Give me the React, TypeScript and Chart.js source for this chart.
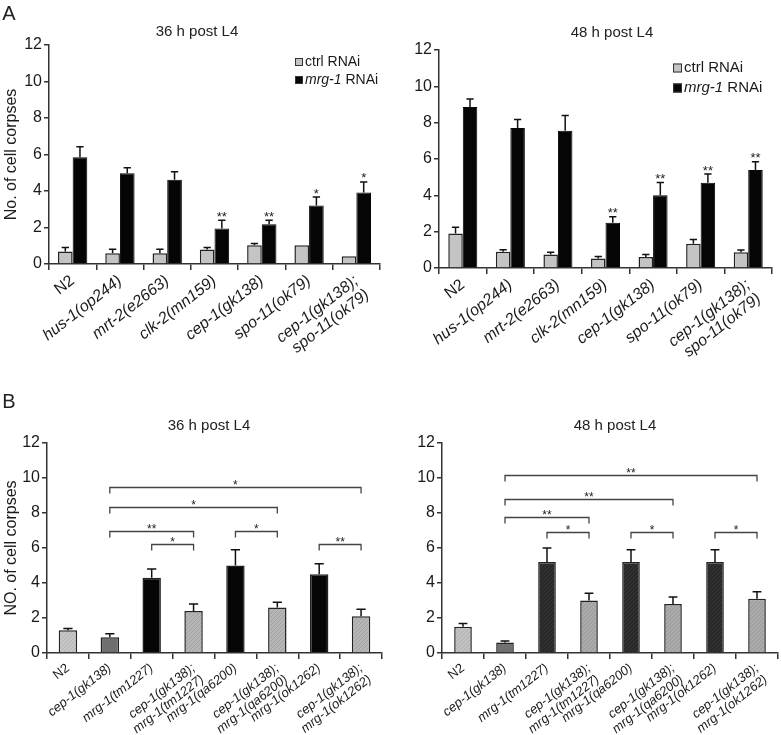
import React, { useEffect, useRef } from 'react';
import { Chart, registerables } from 'chart.js';

Chart.register(...registerables);

const FONT = "'Liberation Sans', Arial, Helvetica, sans-serif";

// ---------- Panel A data ----------
const genotypesA: (string | string[])[] = [
  'N2', 'hus-1(op244)', 'mrt-2(e2663)', 'clk-2(mn159)', 'cep-1(gk138)', 'spo-11(ok79)',
  ['cep-1(gk138);', 'spo-11(ok79)'],
];
const ctrl36 = [0.68, 0.59, 0.59, 0.8, 1.03, 1.03, 0.42];
const ctrl36Err = [0.22, 0.22, 0.22, 0.1, 0.1, 0, 0];
const mrg36 = [5.85, 4.97, 4.62, 1.95, 2.18, 3.2, 3.92];
const mrg36Err = [0.58, 0.3, 0.43, 0.45, 0.22, 0.47, 0.58];
const sig36 = ['', '', '', '**', '**', '*', '*'];

const ctrl48 = [1.9, 0.89, 0.74, 0.52, 0.61, 1.33, 0.87];
const ctrl48Err = [0.35, 0.11, 0.13, 0.11, 0.13, 0.24, 0.12];
const mrg48 = [8.86, 7.7, 7.56, 2.49, 4.0, 4.69, 5.39];
const mrg48Err = [0.44, 0.47, 0.84, 0.33, 0.7, 0.48, 0.46];
const sig48 = ['', '', '', '**', '**', '**', '**'];

// ---------- Panel B data ----------
const genotypesB: (string | string[])[] = [
  'N2', 'cep-1(gk138)', 'mrg-1(tm1227)', ['cep-1(gk138);', 'mrg-1(tm1227)'],
  'mrg-1(qa6200)', ['cep-1(gk138);', 'mrg-1(qa6200)'],
  'mrg-1(ok1262)', ['cep-1(gk138);', 'mrg-1(ok1262)'],
];
const b36 = [1.3, 0.9, 4.3, 2.4, 5.0, 2.6, 4.5, 2.1];
const b36Err = [0.1, 0.2, 0.5, 0.4, 0.9, 0.3, 0.6, 0.4];
const b48 = [1.5, 0.6, 5.2, 3.0, 5.2, 2.8, 5.2, 3.1];
const b48Err = [0.18, 0.09, 0.8, 0.42, 0.7, 0.4, 0.7, 0.4];

type Bracket = { from: number; to: number; y: number; label: string };
const brackets36: Bracket[] = [
  { from: 1, to: 7, y: 9.5, label: '*' },
  { from: 1, to: 5, y: 8.35, label: '*' },
  { from: 1, to: 3, y: 6.97, label: '**' },
  { from: 2, to: 3, y: 6.23, label: '*' },
  { from: 4, to: 5, y: 6.97, label: '*' },
  { from: 6, to: 7, y: 6.23, label: '**' },
];
const brackets48: Bracket[] = [
  { from: 1, to: 7, y: 10.2, label: '**' },
  { from: 1, to: 5, y: 8.8, label: '**' },
  { from: 1, to: 3, y: 7.77, label: '**' },
  { from: 2, to: 3, y: 6.9, label: '*' },
  { from: 4, to: 5, y: 6.9, label: '*' },
  { from: 6, to: 7, y: 6.9, label: '*' },
];

const yTickValues = [0, 2, 4, 6, 8, 10, 12];

// ---------- helpers ----------
function texture(base: string, line: string): CanvasPattern | string {
  const c = document.createElement('canvas');
  c.width = 4;
  c.height = 4;
  const g = c.getContext('2d');
  if (!g) return base;
  g.fillStyle = base;
  g.fillRect(0, 0, 4, 4);
  g.fillStyle = line;
  for (let i = 0; i < 4; i++) g.fillRect(i, 3 - i, 1, 1);
  return g.createPattern(c, 'repeat') || base;
}

type DS = { data: number[]; err: number[]; color: any; border: any; borderWidth: number };
type Spec = {
  left: number; top: number; width: number; height: number;
  padTop: number; padRight: number; yWidth: number; xHeight: number;
  labels: (string | string[])[];
  datasets: () => DS[];
  sig?: string[];
  brackets?: Bracket[];
  title: { text: string; x: number; y: number; size: number };
  legend?: { x: number; y1: number; y2: number; box: number; size: number };
  letter?: { text: string; x: number; y: number };
  yTitle?: string;
  xFont: number;
  rotation: number;
  barPct: number;
  catPct: number;
  capFrac: number;
};

function makeDecor(spec: Spec, dss: DS[]) {
  return {
    id: 'decor',
    afterDatasetsDraw(chart: any) {
      const ctx: CanvasRenderingContext2D = chart.ctx;
      const ys = chart.scales.y;
      ctx.save();
      // error bars
      dss.forEach((ds, di) => {
        const meta = chart.getDatasetMeta(di);
        meta.data.forEach((bar: any, i: number) => {
          const e = ds.err[i];
          if (!e) return;
          const top = ys.getPixelForValue(ds.data[i] + e);
          const capW = bar.width * spec.capFrac;
          ctx.strokeStyle = '#111';
          ctx.lineWidth = 1.5;
          ctx.beginPath();
          ctx.moveTo(bar.x, bar.y);
          ctx.lineTo(bar.x, top);
          ctx.moveTo(bar.x - capW / 2, top);
          ctx.lineTo(bar.x + capW / 2, top);
          ctx.stroke();
        });
      });
      // significance stars above bars (panel A)
      if (spec.sig) {
        const di = dss.length - 1;
        const meta = chart.getDatasetMeta(di);
        ctx.fillStyle = '#222';
        ctx.font = `13px ${FONT}`;
        ctx.textAlign = 'center';
        ctx.textBaseline = 'alphabetic';
        spec.sig.forEach((s, i) => {
          if (!s) return;
          const bar = meta.data[i];
          const top = ys.getPixelForValue(dss[di].data[i] + dss[di].err[i]);
          ctx.fillText(s, bar.x, top - 7 + 0.58 * 13);
        });
      }
      // brackets (panel B)
      if (spec.brackets) {
        const meta = chart.getDatasetMeta(0);
        ctx.strokeStyle = '#444';
        ctx.lineWidth = 1.3;
        ctx.fillStyle = '#222';
        ctx.font = `12px ${FONT}`;
        ctx.textAlign = 'center';
        ctx.textBaseline = 'alphabetic';
        spec.brackets.forEach((b) => {
          const x1 = meta.data[b.from].x;
          const x2 = meta.data[b.to].x;
          const yp = Math.round(ys.getPixelForValue(b.y)) + 0.5;
          ctx.beginPath();
          ctx.moveTo(x1, yp + 6);
          ctx.lineTo(x1, yp);
          ctx.lineTo(x2, yp);
          ctx.lineTo(x2, yp + 6);
          ctx.stroke();
          ctx.fillText(b.label, (x1 + x2) / 2, yp - 5 + 0.58 * 12);
        });
      }
      // title
      ctx.fillStyle = '#222';
      ctx.font = `${spec.title.size}px ${FONT}`;
      ctx.textAlign = 'center';
      ctx.textBaseline = 'middle';
      ctx.fillText(spec.title.text, spec.title.x, spec.title.y);
      // legend
      if (spec.legend) {
        const L = spec.legend;
        const rows = [
          { y: L.y1, fill: '#c4c4c4', parts: [{ t: 'ctrl RNAi', it: false }] },
          { y: L.y2, fill: '#050505', parts: [{ t: 'mrg-1', it: true }, { t: ' RNAi', it: false }] },
        ];
        rows.forEach((r) => {
          ctx.fillStyle = r.fill;
          ctx.fillRect(L.x, r.y - L.box / 2, L.box, L.box);
          ctx.strokeStyle = '#333';
          ctx.lineWidth = 1;
          ctx.strokeRect(L.x + 0.5, r.y - L.box / 2 + 0.5, L.box - 1, L.box - 1);
          let x = L.x + L.box + 2;
          ctx.fillStyle = '#1a1a1a';
          ctx.textAlign = 'left';
          ctx.textBaseline = 'middle';
          r.parts.forEach((p) => {
            ctx.font = `${p.it ? 'italic ' : ''}${L.size}px ${FONT}`;
            ctx.fillText(p.t, x, r.y);
            x += ctx.measureText(p.t).width;
          });
        });
      }
      // panel letter
      if (spec.letter) {
        ctx.fillStyle = '#222';
        ctx.font = `20px ${FONT}`;
        ctx.textAlign = 'center';
        ctx.textBaseline = 'middle';
        ctx.fillText(spec.letter.text, spec.letter.x, spec.letter.y);
      }
      ctx.restore();
    },
  };
}

function buildChart(canvas: HTMLCanvasElement, spec: Spec) {
  const dss = spec.datasets();
  return new Chart(canvas, {
    type: 'bar',
    data: {
      labels: spec.labels as any,
      datasets: dss.map((d) => ({
        data: d.data,
        backgroundColor: d.color,
        borderColor: d.border,
        borderWidth: d.borderWidth,
        borderSkipped: 'bottom',
        barPercentage: spec.barPct,
        categoryPercentage: spec.catPct,
      })),
    },
    options: {
      responsive: false,
      animation: false,
      devicePixelRatio: 1,
      layout: { padding: { top: spec.padTop, right: spec.padRight, left: 0, bottom: 0 } },
      plugins: {
        legend: { display: false },
        title: { display: false },
        tooltip: { enabled: false },
      },
      scales: {
        x: {
          type: 'category',
          offset: true,
          grid: {
            display: true,
            drawOnChartArea: false,
            drawTicks: true,
            tickLength: 6,
            color: '#333',
            lineWidth: 1.5,
            offset: true,
          },
          border: { display: true, color: '#333', width: 1.5 },
          ticks: {
            autoSkip: false,
            minRotation: spec.rotation,
            maxRotation: spec.rotation,
            padding: 2,
            color: '#1a1a1a',
            font: (c: any) => ({
              family: FONT,
              size: spec.xFont,
              style: c.index === 0 ? 'normal' : 'italic',
              lineHeight: 1.1,
            }),
          },
          afterFit: (s: any) => {
            s.height = spec.xHeight;
          },
        },
        y: {
          min: 0,
          max: 12,
          afterBuildTicks: (s: any) => {
            s.ticks = yTickValues.map((v) => ({ value: v }));
          },
          ticks: { color: '#1a1a1a', font: { family: FONT, size: 16 }, padding: 2 },
          grid: {
            display: true,
            drawOnChartArea: false,
            drawTicks: true,
            tickLength: 5,
            color: '#333',
            lineWidth: 1.5,
          },
          border: { display: true, color: '#333', width: 1.5 },
          title: {
            display: !!spec.yTitle,
            text: spec.yTitle || '',
            color: '#1a1a1a',
            font: { family: FONT, size: 16 },
            padding: { top: 2, bottom: 0 },
          },
          afterFit: (s: any) => {
            s.width = spec.yWidth;
          },
        },
      },
    } as any,
    plugins: [makeDecor(spec, dss)],
  });
}

const specs: Spec[] = [
  {
    left: 0, top: 0, width: 390, height: 380,
    padTop: 45, padRight: 10, yWidth: 49, xHeight: 116,
    labels: genotypesA,
    datasets: () => [
      { data: ctrl36, err: ctrl36Err, color: '#c4c4c4', border: '#222', borderWidth: 1.5 },
      { data: mrg36, err: mrg36Err, color: '#050505', border: '#050505', borderWidth: 1 },
    ],
    sig: sig36,
    title: { text: '36 h post L4', x: 197, y: 32, size: 15 },
    legend: { x: 295, y1: 62, y2: 80, box: 8, size: 14 },
    letter: { text: 'A', x: 9, y: 14 },
    yTitle: 'No. of cell corpses',
    xFont: 16, rotation: 38, barPct: 1.0, catPct: 0.62, capFrac: 0.5,
  },
  {
    left: 390, top: 0, width: 391, height: 380,
    padTop: 50, padRight: 9, yWidth: 49, xHeight: 112,
    labels: genotypesA,
    datasets: () => [
      { data: ctrl48, err: ctrl48Err, color: '#c4c4c4', border: '#222', borderWidth: 1.5 },
      { data: mrg48, err: mrg48Err, color: '#050505', border: '#050505', borderWidth: 1 },
    ],
    sig: sig48,
    title: { text: '48 h post L4', x: 222, y: 33, size: 15 },
    legend: { x: 283, y1: 68, y2: 88, box: 9, size: 15 },
    xFont: 16, rotation: 38, barPct: 1.0, catPct: 0.61, capFrac: 0.5,
  },
  {
    left: 0, top: 380, width: 390, height: 355,
    padTop: 63, padRight: 8, yWidth: 47, xHeight: 82,
    labels: genotypesB,
    datasets: () => [
      {
        data: b36, err: b36Err,
        color: [
          texture('#c6c6c6', '#b4b4b4'), '#6f6f6f', '#060606', texture('#b6b6b6', '#a2a2a2'),
          '#060606', texture('#b6b6b6', '#a2a2a2'), '#060606', texture('#b6b6b6', '#a2a2a2'),
        ],
        border: '#222', borderWidth: 1.5,
      },
    ],
    brackets: brackets36,
    title: { text: '36 h post L4', x: 209, y: 46, size: 15 },
    letter: { text: 'B', x: 9, y: 22 },
    yTitle: 'NO. of cell corpses',
    xFont: 13, rotation: 38, barPct: 0.44, catPct: 1.0, capFrac: 0.5,
  },
  {
    left: 390, top: 380, width: 391, height: 355,
    padTop: 63, padRight: 3, yWidth: 52, xHeight: 82,
    labels: genotypesB,
    datasets: () => [
      {
        data: b48, err: b48Err,
        color: [
          texture('#c2c2c2', '#b0b0b0'), '#707070', texture('#303030', '#202020'), texture('#ababab', '#989898'),
          texture('#303030', '#202020'), texture('#ababab', '#989898'), texture('#303030', '#202020'), texture('#ababab', '#989898'),
        ],
        border: '#222', borderWidth: 1.5,
      },
    ],
    brackets: brackets48,
    title: { text: '48 h post L4', x: 225, y: 46, size: 15 },
    xFont: 13, rotation: 38, barPct: 0.42, catPct: 1.0, capFrac: 0.5,
  },
];

function Panel({ spec }: { spec: Spec }) {
  const ref = useRef<HTMLCanvasElement | null>(null);
  useEffect(() => {
    if (!ref.current) return;
    const chart = buildChart(ref.current, spec);
    return () => chart.destroy();
  }, [spec]);
  return (
    <div style={{ position: 'absolute', left: spec.left, top: spec.top, width: spec.width, height: spec.height }}>
      <canvas ref={ref} width={spec.width} height={spec.height} style={{ width: spec.width, height: spec.height, display: 'block' }} />
    </div>
  );
}

export default function App() {
  return (
    <div style={{ position: 'absolute', left: 0, top: 0, width: 781, height: 735, background: '#fff', overflow: 'hidden' }}>
      {specs.map((s, i) => (
        <Panel key={i} spec={s} />
      ))}
    </div>
  );
}
